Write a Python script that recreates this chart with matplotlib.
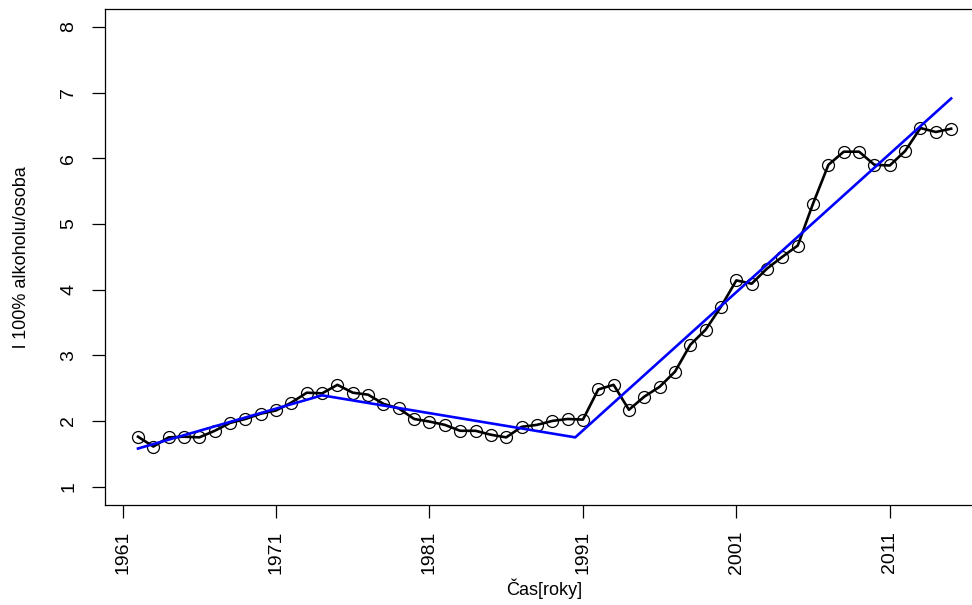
import matplotlib
matplotlib.use("Agg")
import matplotlib.pyplot as plt

plt.rcParams["font.family"] = ["Liberation Sans", "DejaVu Sans"]

# consumption of pure alcohol per person, by year
years = list(range(1962, 2016))
alcohol = [
    1.76, 1.61, 1.75, 1.76, 1.75, 1.85, 1.97, 2.03, 2.11, 2.16,
    2.28, 2.43, 2.42, 2.55, 2.43, 2.40, 2.26, 2.19, 2.03, 1.99,
    1.94, 1.85, 1.85, 1.79, 1.75, 1.91, 1.94, 2.00, 2.03, 2.02,
    2.48, 2.55, 2.17, 2.37, 2.52, 2.75, 3.16, 3.39, 3.74, 4.14,
    4.09, 4.32, 4.50, 4.67, 5.31, 5.90, 6.10, 6.10, 5.90, 5.89,
    6.11, 6.46, 6.40, 6.45,
]

# segmented (piecewise linear) fit: breakpoints
fit_years = [1962, 1974, 1990.5, 2015]
fit_values = [1.58, 2.39, 1.75, 6.91]

x_ticks = [1961, 1971, 1981, 1991, 2001, 2011]
y_ticks = [1, 2, 3, 4, 5, 6, 7, 8]

fig = plt.figure(figsize=(9.72, 6.05), dpi=100)
ax = fig.add_axes([0.1085, 0.1653, 0.9035, 0.8206])

ax.plot(years, alcohol, color="black", linewidth=1.9, zorder=3)
ax.plot(years, alcohol, linestyle="none", marker="o", markersize=8.6,
        markerfacecolor="none", markeredgecolor="black",
        markeredgewidth=0.9, zorder=4)
ax.plot(fit_years, fit_values, color="blue", linewidth=1.9, zorder=5)

span = years[-1] - years[0]
ax.set_xlim(years[0] - 0.04 * span, years[-1] + 0.04 * span)
ax.set_ylim(1 - 0.04 * 7, 8 + 0.04 * 7)

ax.set_xticks(x_ticks)
ax.set_xticklabels([str(t) for t in x_ticks], rotation=90)
ax.set_yticks(y_ticks)
ax.set_yticklabels([str(t) for t in y_ticks], rotation=90, va="center")

ax.tick_params(axis="both", direction="out", length=9.4, width=0.9,
               labelsize=14, colors="black")
ax.tick_params(axis="x", pad=9)
ax.tick_params(axis="y", pad=11)

for s in ax.spines.values():
    s.set_linewidth(0.9)

ax.set_xlabel("Čas[roky]", fontsize=13, labelpad=3)
ax.set_ylabel("l 100% alkoholu/osoba", fontsize=13, labelpad=22)

fig.savefig("out.png", dpi=100)
